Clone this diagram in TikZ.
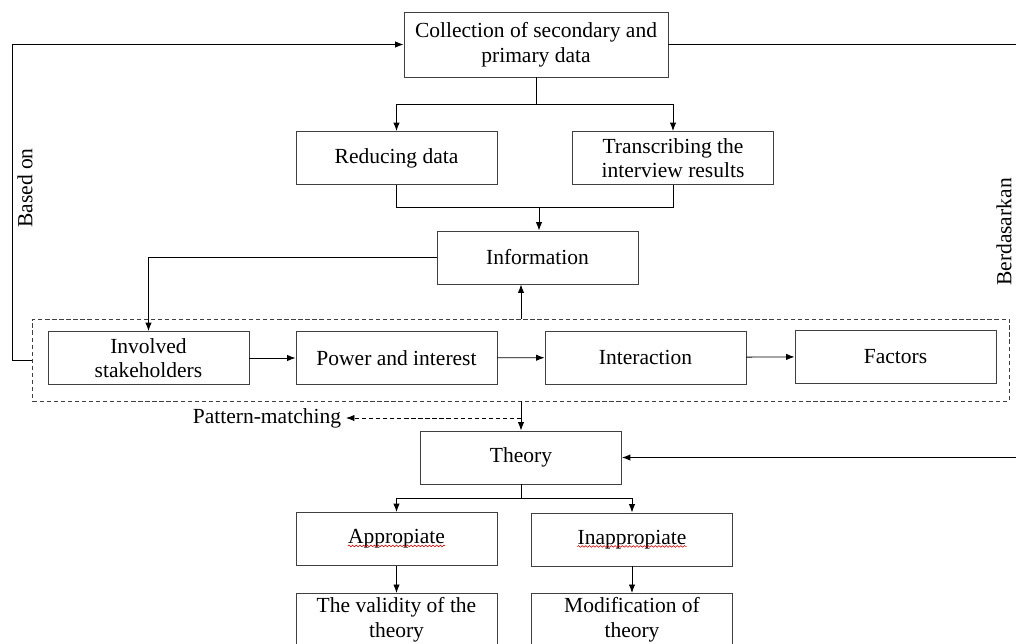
\documentclass[tikz,border=0pt]{standalone}
\usepackage{fontspec}
\setmainfont{Liberation Serif}
\usetikzlibrary{arrows.meta,decorations.pathmorphing}

\tikzset{
  box/.style={draw=black!75, line width=0.6pt, minimum width=5.025cm, minimum height=1.325cm,
    align=center, inner sep=1pt, font=\fontsize{15.3}{17.5}\selectfont},
  lbl/.style={font=\fontsize{15.3}{17.5}\selectfont},
  ln/.style={line width=0.6pt},
  arr/.style={ln, -{Latex[length=6pt,width=4.5pt]}},
  wavy/.style={red!80!black, line width=0.4pt, decorate,
    decoration={snake, amplitude=0.6pt, segment length=2.6pt}},
}

\begin{document}
\begin{tikzpicture}[x=0.025cm,y=-0.025cm]
       \useasboundingbox (0,0) rectangle (1016,643);
       \clip (0,0) rectangle (1016,643);

       \node(coll)[box, minimum width=6.6cm, minimum height=1.625cm] at (536,44.5) {Collection of secondary and\\primary data};

       \node(red)[box] at (396.5,158) {Reducing data};
       \node(trans)[box] at (673,158) {Transcribing the\\interview results};

       \node(info)[box] at (537.5,257.5) {Information};

       \node(grp)[draw=black!75, line width=0.6pt, dash pattern=on 3pt off 2pt,
         minimum width=24.4cm, minimum height=2.05cm] at (521,360) {};
       \node(inv)[box] at (148.5,358) {Involved\\stakeholders};
       \node(pow)[box] at (396.5,358) {Power and interest};
       \node(inter)[box] at (645.5,357.5) {Interaction};
       \node(fac)[box] at (895.5,356.5) {Factors};

       \node(patt)[lbl, anchor=east] at (346,418) {Pattern-matching};

       \node(theo)[box] at (521,457.5) {Theory};

       \node(appr)[box] at (396.5,539) {Appropiate};
       \node(inappr)[box] at (632,539.5) {Inappropiate};
       \node(apprtx)[lbl, inner sep=0pt] at (appr) {\phantom{Appropiate}};
       \node(inapprtx)[lbl, inner sep=0pt] at (inappr) {\phantom{Inappropiate}};

       \node(valid)[box, anchor=north] at (396.5,593) {The validity of the\\theory};
       \node(modif)[box, anchor=north] at (632,593) {Modification of\\theory};

       \node(based)[lbl, rotate=90] at (25,188) {Based on};
       \node(berd)[lbl, rotate=90] at (1004,232) {Berdasarkan};

       \coordinate(lft) at (12,360);
       \coordinate(rgt) at (1030,250);

       \draw[ln] (coll.south) -- ++(0,27) coordinate(split1);
       \draw[arr] (split1) -| (red.north);
       \draw[arr] (split1) -| (trans.north);

       \draw[ln] (red.south) -- ++(0,22) coordinate(join1) -| (trans.south);
       \draw[arr] (join1 -| 539,0) -- (info.north -| 539,0);

       \draw[arr] (info.west) -| (inv.north);
       \draw[arr] (grp.north) -- (grp.north |- info.south);

       \draw[arr] (inv) -- (pow);
       \draw[arr] (pow) -- (inter);
       \draw[arr] (inter) -- (fac);

       \draw[arr] (grp.south) -- (theo.north);
       \draw[arr, dash pattern=on 3pt off 2pt] (grp.south |- patt.east) -- (patt.east);

       \draw[ln] (theo.south) -- ++(0,14) coordinate(split2);
       \draw[arr] (split2) -| (appr.north);
       \draw[arr] (split2) -| (inappr.north);

       \draw[arr] (appr) -- (valid);
       \draw[arr] (inappr) -- (modif);

       \draw[arr] (grp.west) -- (lft) |- (coll.west);
       \draw[arr] (coll.east) -| (rgt) |- (theo.east);

       \draw[wavy] ([yshift=-1.5pt]apprtx.base west) -- ([yshift=-1.5pt]apprtx.base east);
       \draw[wavy] ([yshift=-1.5pt]inapprtx.base west) -- ([yshift=-1.5pt]inapprtx.base east);
\end{tikzpicture}
\end{document}
